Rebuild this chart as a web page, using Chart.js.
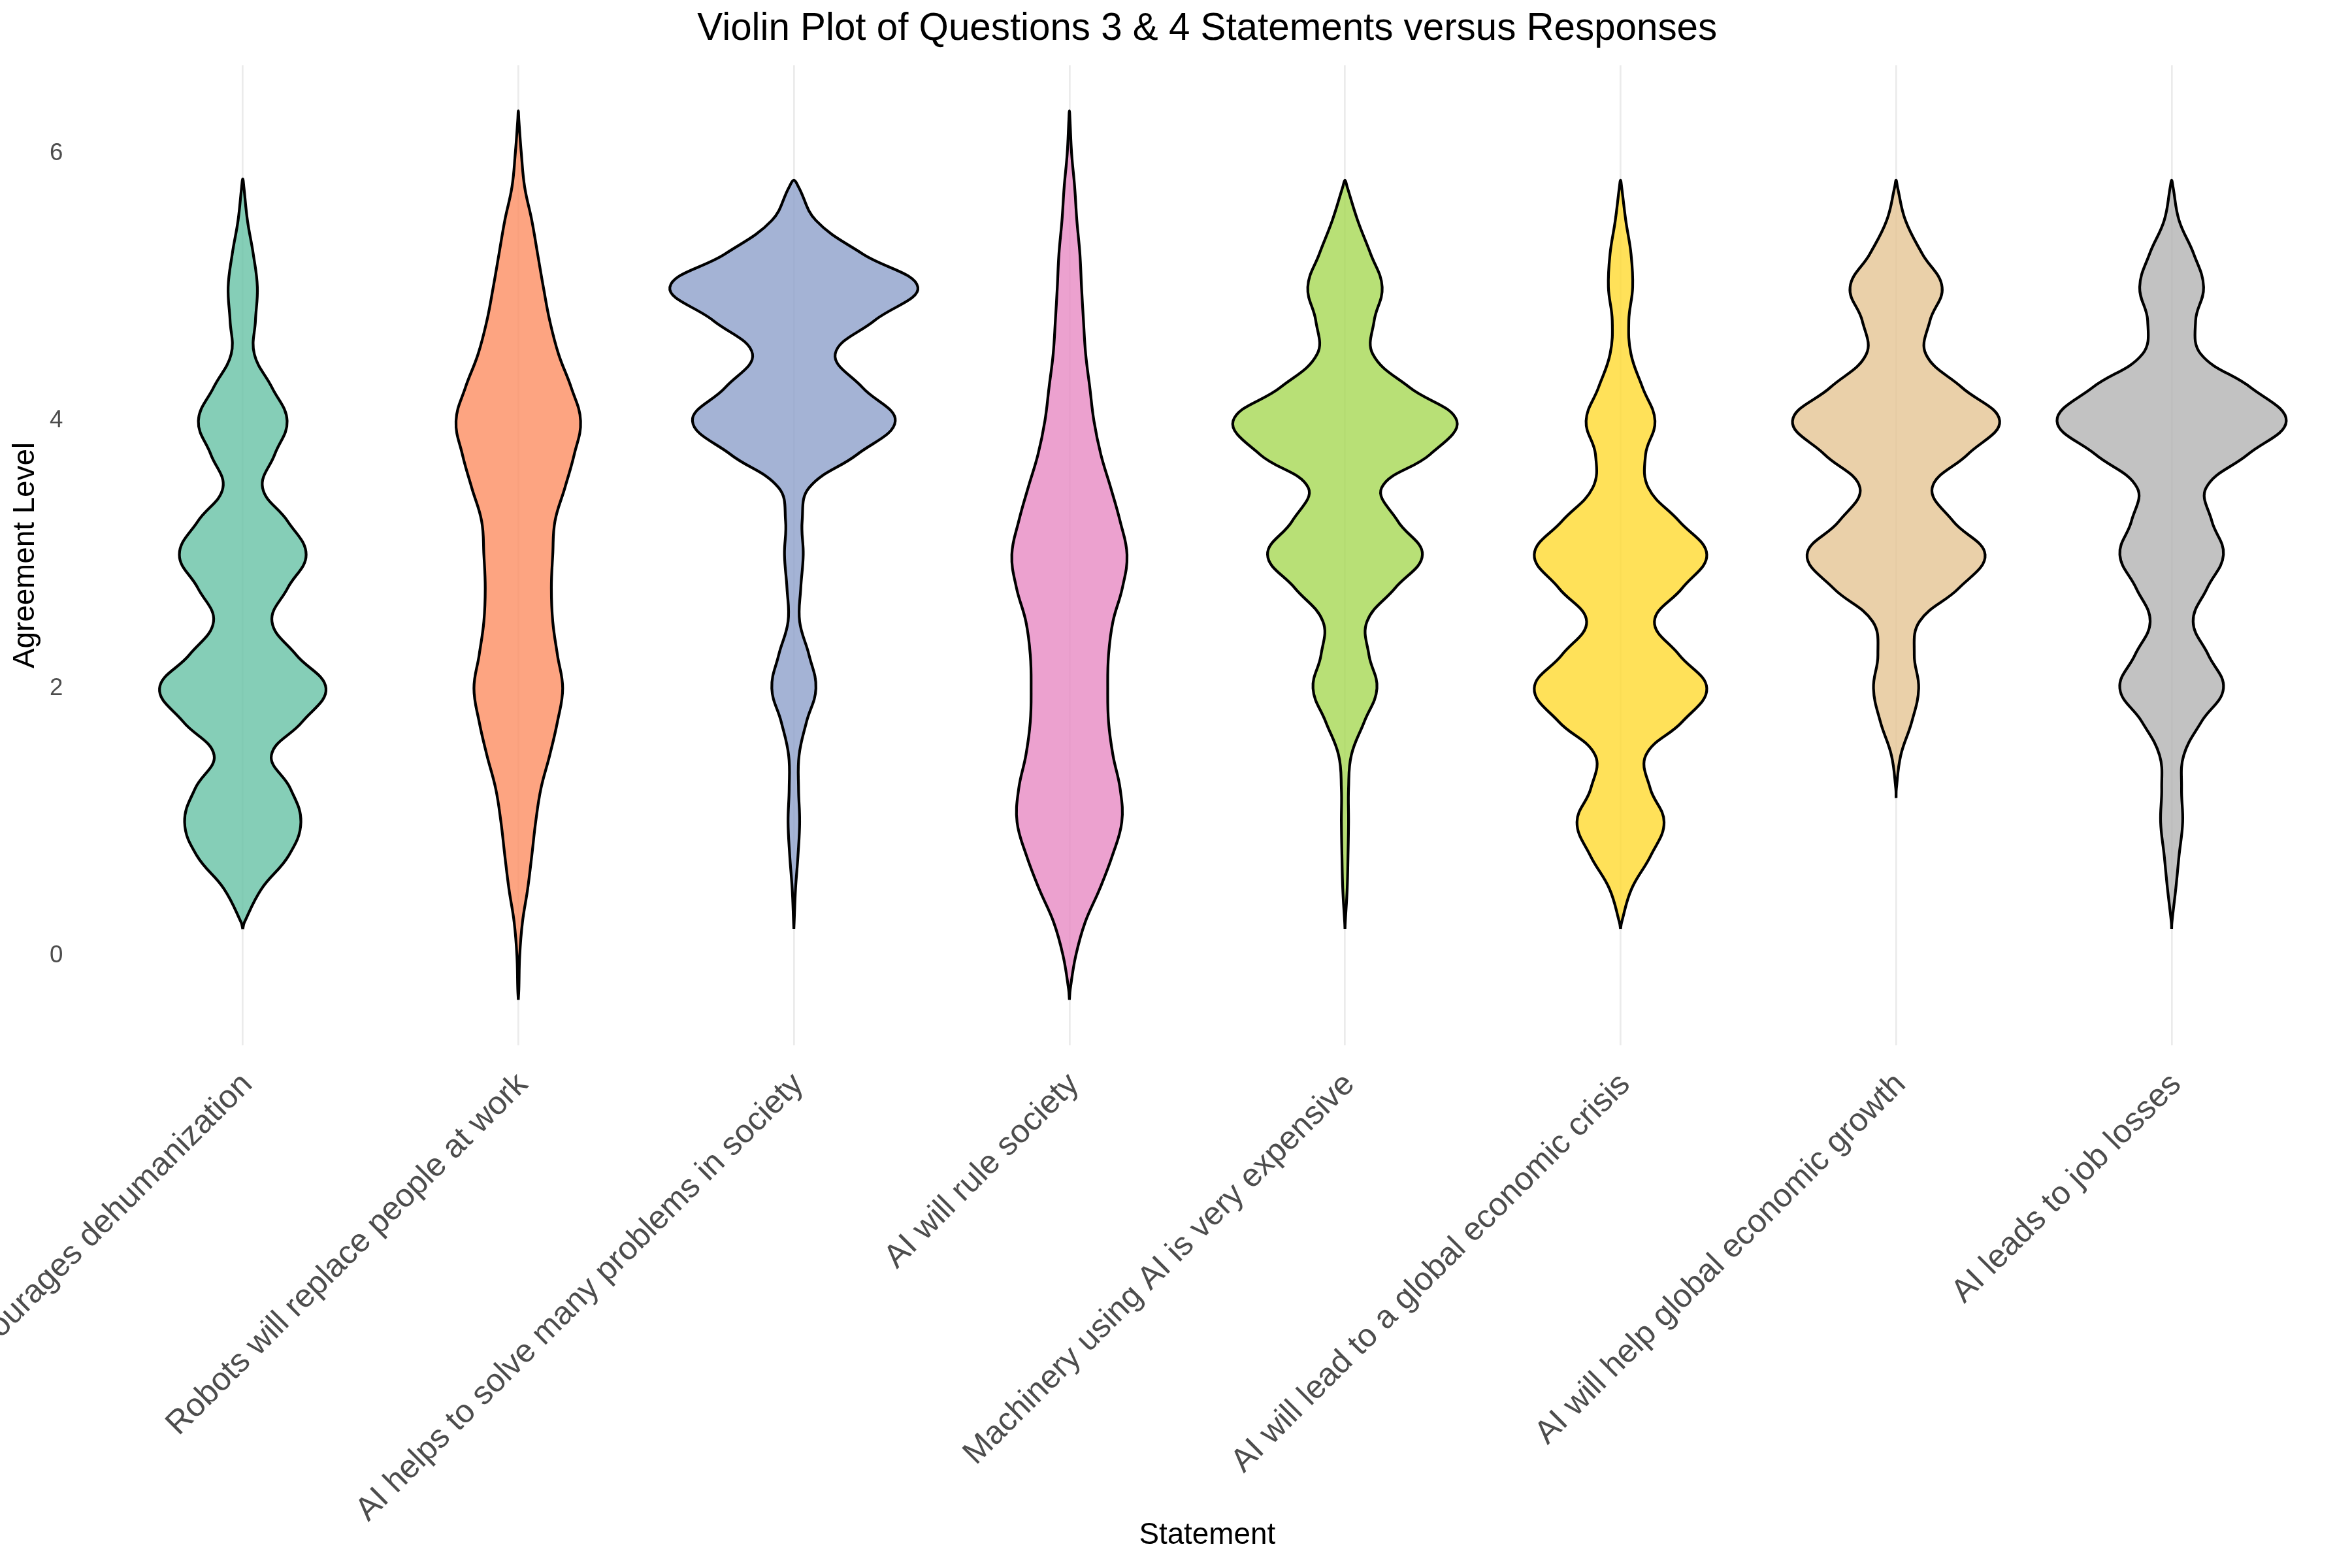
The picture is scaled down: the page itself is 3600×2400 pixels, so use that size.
<!DOCTYPE html>
<html>
<head>
<meta charset="utf-8">
<script src="https://cdn.jsdelivr.net/npm/chart.js@4.4.1/dist/chart.umd.min.js"></script>
<style>
html, body { margin: 0; padding: 0; background: #ffffff; }
#wrap { width: 3600px; height: 2400px; position: relative; }
</style>
</head>
<body>
<div id="wrap"><canvas id="c" width="3600" height="2400"></canvas></div>
<script>
// ---------- data ----------
const statements = [
  "AI encourages dehumanization",
  "Robots will replace people at work",
  "AI helps to solve many problems in society",
  "AI will rule society",
  "Machinery using AI is very expensive",
  "AI will lead to a global economic crisis",
  "AI will help global economic growth",
  "AI leads to job losses"
];
const chartTitle = "Violin Plot of Questions 3 & 4 Statements versus Responses";
const xAxisTitle = "Statement";
const yAxisTitle = "Agreement Level";
const yTickValues = [0, 2, 4, 6];

// Agreement levels at which the violin half-widths (in category units) were read
const levels = [-0.25, 0, 0.25, 0.5, 0.75, 1, 1.25, 1.5, 1.75, 2, 2.25, 2.5, 2.75, 3,
                3.25, 3.5, 3.75, 4, 4.25, 4.5, 4.75, 5, 5.25, 5.5, 5.75, 6, 6.25];
const tipLow  = [0.2, -0.33, 0.2, -0.33, 0.2, 0.2, 1.18, 0.2];
const tipHigh = [5.81, 6.32, 5.8, 6.32, 5.8, 5.8, 5.8, 5.8];

const widthDehumanization = [null, null, 0.006, 0.068, 0.167, 0.211, 0.173, 0.104, 0.216, 0.302, 0.194, 0.106, 0.163, 0.230,
                             0.163, 0.072, 0.116, 0.161, 0.106, 0.042, 0.046, 0.053, 0.038, 0.017, 0.004, null, null];
const widthRobots = [0.002, 0.005, 0.015, 0.034, 0.049, 0.063, 0.082, 0.114, 0.142, 0.161, 0.142, 0.125, 0.120, 0.125,
                     0.133, 0.169, 0.203, 0.226, 0.192, 0.146, 0.114, 0.091, 0.070, 0.049, 0.023, 0.011, 0.002];
const widthSolveProblems = [null, null, 0.001, 0.006, 0.015, 0.021, 0.017, 0.019, 0.046, 0.080, 0.055, 0.021, 0.025, 0.034,
                            0.030, 0.055, 0.230, 0.368, 0.249, 0.150, 0.292, 0.450, 0.249, 0.080, 0.017, null, null];
const widthRuleSociety = [0.003, 0.023, 0.057, 0.110, 0.156, 0.190, 0.184, 0.158, 0.142, 0.139, 0.142, 0.158, 0.192, 0.209,
                          0.184, 0.150, 0.114, 0.089, 0.074, 0.059, 0.051, 0.044, 0.038, 0.027, 0.019, 0.008, 0.002];
const widthExpensive = [null, null, 0.001, 0.008, 0.011, 0.013, 0.013, 0.023, 0.070, 0.116, 0.087, 0.080, 0.182, 0.281,
                        0.192, 0.133, 0.309, 0.406, 0.235, 0.101, 0.106, 0.135, 0.093, 0.046, 0.008, null, null];
const widthCrisis = [null, null, 0.004, 0.040, 0.110, 0.158, 0.108, 0.092, 0.224, 0.313, 0.213, 0.123, 0.224, 0.313,
                     0.213, 0.101, 0.091, 0.125, 0.080, 0.038, 0.030, 0.044, 0.038, 0.019, 0.004, null, null];
const widthGrowth = [null, null, null, null, null, null, 0.001, 0.017, 0.057, 0.082, 0.066, 0.085, 0.228, 0.323,
                     0.207, 0.131, 0.260, 0.376, 0.239, 0.108, 0.123, 0.167, 0.095, 0.034, 0.005, null, null];
const widthJobLosses = [null, null, 0.001, 0.015, 0.027, 0.040, 0.036, 0.044, 0.108, 0.188, 0.133, 0.078, 0.129, 0.188,
                        0.146, 0.125, 0.277, 0.416, 0.287, 0.106, 0.087, 0.116, 0.080, 0.027, 0.005, null, null];

const halfWidths = [widthDehumanization, widthRobots, widthSolveProblems, widthRuleSociety,
                    widthExpensive, widthCrisis, widthGrowth, widthJobLosses];

const fillColors = [
  "rgba(102,194,165,0.8)", "rgba(252,141,98,0.8)", "rgba(141,160,203,0.8)", "rgba(231,138,195,0.8)",
  "rgba(166,216,84,0.8)", "rgba(255,217,47,0.8)", "rgba(229,196,148,0.8)", "rgba(179,179,179,0.8)"
];

// ---------- build closed violin outlines in data space ----------
function violinPoints(i) {
  const cx = i + 1;
  const inside = [];
  levels.forEach((lv, k) => {
    const w = halfWidths[i][k];
    if (w !== null && lv > tipLow[i] && lv < tipHigh[i]) inside.push({ lv, w });
  });
  const pts = [{ x: cx, y: tipLow[i] }];
  inside.forEach(p => pts.push({ x: cx + p.w, y: p.lv }));
  pts.push({ x: cx, y: tipHigh[i] });
  inside.slice().reverse().forEach(p => pts.push({ x: cx - p.w, y: p.lv }));
  pts.push({ x: cx, y: tipLow[i] });
  return pts;
}

const FONT = "'Liberation Sans', Arial, Helvetica, sans-serif";

new Chart(document.getElementById('c').getContext('2d'), {
  type: 'scatter',
  data: {
    datasets: statements.map((s, i) => ({
      label: s,
      data: violinPoints(i),
      showLine: true,
      fill: 'shape',
      backgroundColor: fillColors[i],
      borderColor: '#000000',
      borderWidth: 4.2,
      borderJoinStyle: 'round',
      pointRadius: 0,
      pointHoverRadius: 0,
      tension: 0.4
    }))
  },
  options: {
    responsive: false,
    animation: false,
    devicePixelRatio: 1,
    events: [],
    layout: { padding: { left: 0, right: 23, top: 0, bottom: 0 } },
    plugins: {
      legend: { display: false },
      tooltip: { enabled: false },
      title: {
        display: true,
        fullSize: false,
        text: chartTitle,
        color: '#000000',
        font: { family: FONT, size: 58.3, weight: 'normal' },
        padding: { top: 10, bottom: 20 }
      }
    },
    scales: {
      x: {
        type: 'linear',
        min: 0.4,
        max: 8.6,
        afterBuildTicks: (s) => { s.ticks = statements.map((_, i) => ({ value: i + 1 })); },
        afterFit: (s) => { s.height = 800; s.paddingLeft = 0; s.paddingRight = 0; },
        grid: { color: '#EBEBEB', lineWidth: 2.7, drawTicks: false },
        border: { display: false },
        ticks: {
          autoSkip: false,
          minRotation: 45,
          maxRotation: 45,
          padding: 31,
          labelOffset: 7,
          color: '#4D4D4D',
          font: { family: FONT, size: 50 },
          callback: (v) => statements[Math.round(v) - 1]
        },
        title: {
          display: true,
          text: xAxisTitle,
          color: '#000000',
          font: { family: FONT, size: 45.8 },
          padding: { top: 0, bottom: 22 }
        }
      },
      y: {
        type: 'linear',
        min: -0.67,
        max: 6.66,
        afterBuildTicks: (s) => { s.ticks = yTickValues.map(v => ({ value: v })); },
        afterFit: (s) => { s.width = 118.5; },
        grid: { display: false, drawTicks: false },
        border: { display: false },
        ticks: {
          padding: 22,
          color: '#4D4D4D',
          font: { family: FONT, size: 36.7 },
          callback: (v) => String(v)
        },
        title: {
          display: true,
          text: yAxisTitle,
          color: '#000000',
          font: { family: FONT, size: 45.8 },
          padding: { top: 11.5, bottom: 0 }
        }
      }
    }
  }
});
</script>
</body>
</html>
